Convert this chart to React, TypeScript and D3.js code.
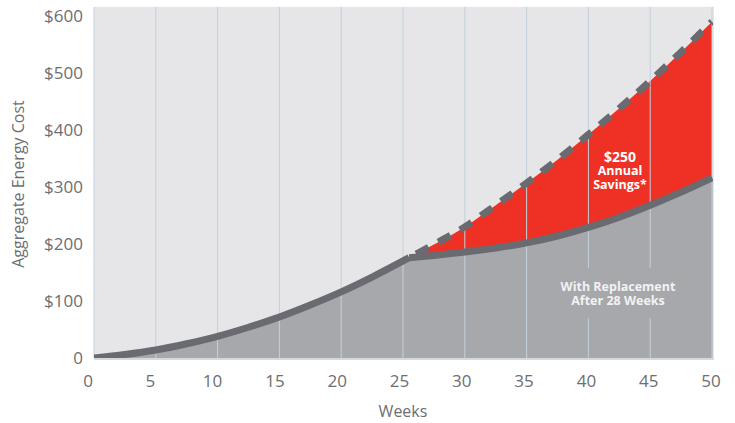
import React from 'react';
import * as d3 from 'd3';

// weeks / aggregate cost ($) for the original lamp
const baseWeeks = [0, 2.5, 5, 7.5, 10, 12.5, 15, 17.5, 20, 22.5, 25.5, 27.5, 30, 32.5, 35, 37.5, 40, 42.5, 45, 47.5, 50];
const baseCost = [0, 6, 14, 25, 38, 54, 72, 93, 116, 142, 176, 199, 230, 268, 307, 348, 392, 438, 486, 537, 590];

// with replacement (kink at ~25.5 weeks)
const replWeeks = [25.5, 27.5, 30, 32.5, 35, 37.5, 40, 42.5, 45, 47.5, 50];
const replCost = [176, 180, 186, 193, 202, 214, 229, 247, 268, 291, 316];

const xTicks = [0, 5, 10, 15, 20, 25, 30, 35, 40, 45, 50];
const yTicks = [0, 100, 200, 300, 400, 500, 600];
const yTickLabels = ['0', '$100', '$200', '$300', '$400', '$500', '$600'];

const W = 735;
const H = 423;
const margin = { left: 94, right: 23, top: 7, bottom: 65 };

const BG = '#e6e6e8';
const AREA = '#a7a8ac';
const BAND = '#6a6b70';
const RED = '#ee3124';
const GRID = '#c3d1db';
const TEXT = '#6d6e71';
const FONT = '"Open Sans", "Noto Sans", sans-serif';

type Pt = { w: number; v: number };

const App = () => {
  const x = d3.scaleLinear().domain([0, 50]).range([margin.left, W - margin.right]);
  const y = d3.scaleLinear().domain([0, 600]).range([H - margin.bottom, 16]);
  const xLab = d3.scaleLinear().domain([0, 50]).range([88, 711]);

  const base: Pt[] = baseWeeks.map((w, i) => ({ w, v: baseCost[i] }));
  const repl: Pt[] = replWeeks.map((w, i) => ({ w, v: replCost[i] }));
  const kink = replWeeks[0];

  const before = base.filter(d => d.w <= kink);
  const after = base.filter(d => d.w >= kink);

  const line = d3.line<Pt>()
    .x(d => x(d.w))
    .y(d => y(d.v))
    .curve(d3.curveMonotoneX);

  const grayArea = d3.area<Pt>()
    .x(d => x(d.w))
    .y0(y(0))
    .y1(d => y(d.v))
    .curve(d3.curveMonotoneX);

  const redArea = d3.area<{ w: number; up: number; lo: number }>()
    .x(d => x(d.w))
    .y0(d => y(d.lo))
    .y1(d => y(d.up))
    .curve(d3.curveMonotoneX);
  const redData = replWeeks.map((w, i) => ({ w, up: baseCost[baseWeeks.indexOf(w)], lo: replCost[i] }));

  const plotTop = y(616);
  const plotBottom = y(0);

  return (
    <svg width={W} height={H} style={{ position: 'absolute', left: 0, top: 0 }}>
      <defs>
        <mask id="gridGap">
          <rect x={0} y={0} width={W} height={H} fill="#fff" />
          <rect x={550} y={268} width={140} height={50} fill="#000" />
        </mask>
        <clipPath id="plotClip">
          <rect x={x(0)} y={plotTop} width={x(50) - x(0) + 1} height={plotBottom - plotTop + 2} />
        </clipPath>
      </defs>

      <rect x={x(0)} y={plotTop} width={x(50) - x(0) + 2} height={plotBottom - plotTop} fill={BG} />

      <g clipPath="url(#plotClip)">
        <path d={grayArea(before) || ''} fill={AREA} stroke={AREA} strokeWidth={1.5} />
        <path d={grayArea(repl) || ''} fill={AREA} stroke={AREA} strokeWidth={1.5} />
        <path d={redArea(redData) || ''} fill={RED} />
      </g>

      <g mask="url(#gridGap)">
        {xTicks.map(t => (
          <line key={t} x1={x(t)} x2={x(t)} y1={plotTop} y2={plotBottom} stroke={GRID} strokeWidth={1} />
        ))}
      </g>

      <g clipPath="url(#plotClip)">
        <path d={line(before) || ''} fill="none" stroke={BAND} strokeWidth={7} />
        <path d={line(repl) || ''} fill="none" stroke={BAND} strokeWidth={7} />
        <path d={line(after) || ''} fill="none" stroke={BAND} strokeWidth={7} strokeDasharray="14 11" strokeDashoffset={-8} />
      </g>

      <line x1={x(0)} x2={x(50) + 2} y1={plotBottom + 1} y2={plotBottom + 1} stroke="#d3d9de" strokeWidth={2} />

      {/* y axis labels */}
      {yTicks.map((t, i) => (
        <text key={t} x={83} y={y(t)} dy="0.35em" textAnchor="end" fontFamily={FONT} fontSize={17} fill={TEXT}>
          {yTickLabels[i]}
        </text>
      ))}

      {/* x axis labels */}
      {xTicks.map(t => (
        <text key={t} x={xLab(t)} y={381} dy="0.35em" textAnchor="middle" fontFamily={FONT} fontSize={17} fill={TEXT}>
          {t}
        </text>
      ))}

      <text x={403} y={411} dy="0.35em" textAnchor="middle" fontFamily={FONT} fontSize={16} fill={TEXT}>Weeks</text>
      <text transform="translate(18,184) rotate(-90)" dy="0.35em" textAnchor="middle" fontFamily={FONT} fontSize={16} fill={TEXT}>
        Aggregate Energy Cost
      </text>

      <g fontFamily={FONT} fontWeight="bold" fontSize={12.5} fill="#fff" textAnchor="middle">
        <text x={620} y={157} dy="0.35em" fontSize={14}>$250</text>
        <text x={620} y={171} dy="0.35em">Annual</text>
        <text x={620} y={185} dy="0.35em">Savings*</text>
        <text x={618} y={287} dy="0.35em" fill="#f2f2f2">With Replacement</text>
        <text x={618} y={301} dy="0.35em" fill="#f2f2f2">After 28 Weeks</text>
      </g>
    </svg>
  );
};

export default App;
